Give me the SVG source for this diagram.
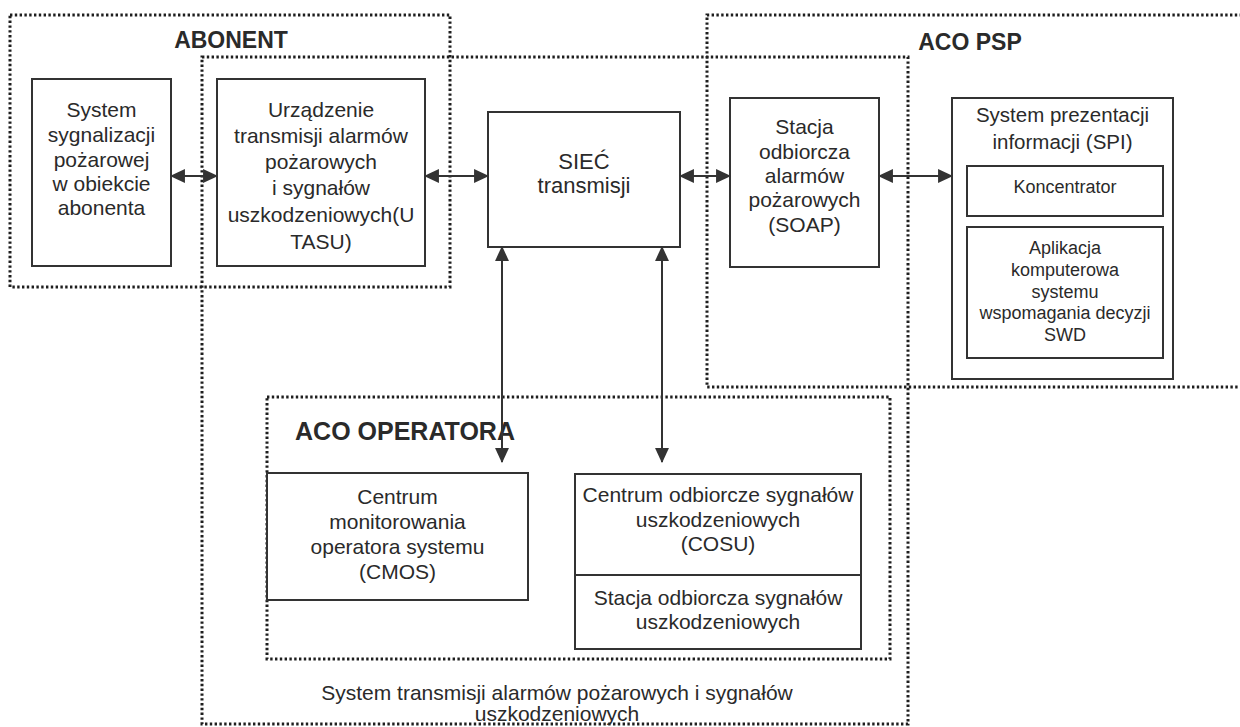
<svg xmlns="http://www.w3.org/2000/svg" width="1240" height="727" viewBox="0 0 1240 727">
<style>
.dot{fill:none;stroke:#1e1e1e;stroke-width:3;stroke-dasharray:2.4 2.4}
.box{fill:#fff;stroke:#333;stroke-width:2}
.in{fill:none;stroke:#333;stroke-width:2}
text{font-family:"Liberation Sans",Arial,sans-serif;fill:#2a2a2a;text-anchor:middle}
.t{font-size:21px}
.s{font-size:18px}
.h{font-size:23px;font-weight:bold}
.con{stroke:#333;stroke-width:2;fill:none;marker-start:url(#ah);marker-end:url(#ah)}
</style>
<defs>
<marker id="ah" markerUnits="userSpaceOnUse" markerWidth="15" markerHeight="15" refX="13" refY="7" orient="auto-start-reverse" viewBox="0 0 14 14">
<path d="M0,0.5 L14,7 L0,13.5 Z" fill="#333"/>
</marker>
</defs>
<rect width="1240" height="727" fill="#fff"/>

<g id="groups">
<rect id="abonent" class="dot" x="10" y="15" width="440" height="272"/>
<path id="aco-psp" class="dot" d="M1242,15 H707 V387 H1242"/>
<rect id="system" class="dot" x="202" y="57" width="706" height="667"/>
<rect id="aco-operatora" class="dot" x="267" y="397" width="623" height="262"/>
<text class="h" x="231" y="48">ABONENT</text>
<text class="h" x="970" y="50">ACO PSP</text>
<text class="h" x="405" y="440" style="font-size:25px">ACO OPERATORA</text>
<text class="t" x="557" y="700">System transmisji alarmów pożarowych i sygnałów</text>
<text class="t" x="557" y="721">uszkodzeniowych</text>
</g>

<g id="n-ssp">
<rect class="box" x="32" y="79" width="139" height="187"/>
<text class="t" x="101.5" y="117">System</text>
<text class="t" x="101.5" y="142">sygnalizacji</text>
<text class="t" x="101.5" y="167">pożarowej</text>
<text class="t" x="101.5" y="191">w obiekcie</text>
<text class="t" x="101.5" y="215">abonenta</text>
</g>

<g id="n-utasu">
<rect class="box" x="217" y="79" width="208" height="187"/>
<text class="t" x="321" y="117">Urządzenie</text>
<text class="t" x="321" y="143">transmisji alarmów</text>
<text class="t" x="321" y="169">pożarowych</text>
<text class="t" x="321" y="195">i sygnałów</text>
<text class="t" x="321" y="222">uszkodzeniowych(U</text>
<text class="t" x="321" y="249">TASU)</text>
</g>

<g id="n-siec">
<rect class="box" x="488" y="112" width="192" height="135"/>
<text class="t" x="584" y="169" style="font-size:22px">SIEĆ</text>
<text class="t" x="584" y="193" style="font-size:22px">transmisji</text>
</g>

<g id="n-soap">
<rect class="box" x="730" y="98" width="149" height="169"/>
<text class="t" x="804.5" y="134">Stacja</text>
<text class="t" x="804.5" y="159">odbiorcza</text>
<text class="t" x="804.5" y="183">alarmów</text>
<text class="t" x="804.5" y="207">pożarowych</text>
<text class="t" x="804.5" y="232">(SOAP)</text>
</g>

<g id="n-spi">
<rect class="box" x="952" y="98" width="221" height="281"/>
<text class="t" x="1062.5" y="122" style="font-size:20.5px">System prezentacji</text>
<text class="t" x="1062.5" y="149" style="font-size:20.5px">informacji (SPI)</text>
<g id="n-koncentrator">
<rect class="in" x="967" y="166" width="196" height="50"/>
<text class="s" x="1065" y="193">Koncentrator</text>
</g>
<g id="n-swd">
<rect class="in" x="967" y="227" width="196" height="131"/>
<text class="s" x="1065" y="254">Aplikacja</text>
<text class="s" x="1065" y="276">komputerowa</text>
<text class="s" x="1065" y="298">systemu</text>
<text class="s" x="1065" y="319">wspomagania decyzji</text>
<text class="s" x="1065" y="341">SWD</text>
</g>
</g>

<g id="n-cmos">
<rect class="box" x="267" y="473" width="261" height="127"/>
<text class="t" x="397.5" y="504">Centrum</text>
<text class="t" x="397.5" y="529">monitorowania</text>
<text class="t" x="397.5" y="554">operatora systemu</text>
<text class="t" x="397.5" y="579">(CMOS)</text>
</g>

<g id="n-cosu">
<rect class="box" x="575" y="474" width="286" height="175"/>
<line class="in" x1="575" y1="575" x2="861" y2="575"/>
<text class="t" x="718" y="502">Centrum odbiorcze sygnałów</text>
<text class="t" x="718" y="527">uszkodzeniowych</text>
<text class="t" x="718" y="551">(COSU)</text>
<text class="t" x="718" y="605">Stacja odbiorcza sygnałów</text>
<text class="t" x="718" y="629">uszkodzeniowych</text>
</g>

<g id="connectors">
<line class="con" x1="171" y1="176" x2="217" y2="176"/>
<line class="con" x1="425" y1="176" x2="488" y2="176"/>
<line class="con" x1="680" y1="176" x2="730" y2="176"/>
<line class="con" x1="879" y1="176" x2="952" y2="176"/>
<line class="con" x1="502" y1="247" x2="502" y2="462"/>
<line class="con" x1="662" y1="247" x2="662" y2="462"/>
</g>
</svg>
